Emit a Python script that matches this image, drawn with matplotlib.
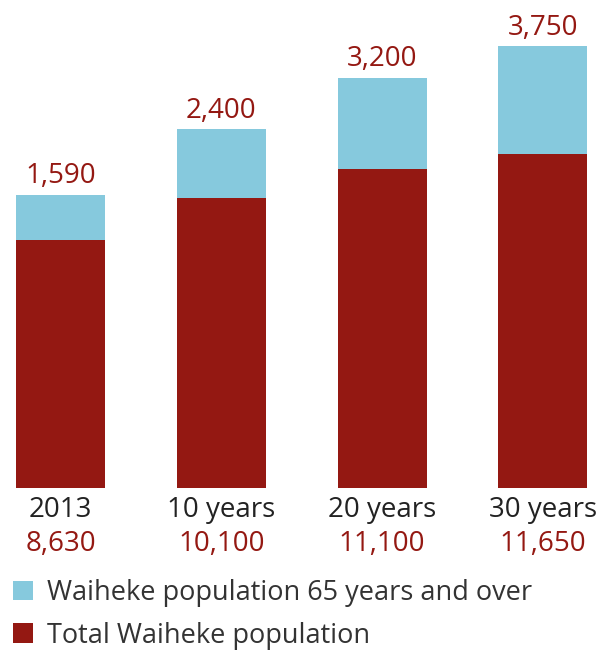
import matplotlib
matplotlib.use("Agg")
import matplotlib.pyplot as plt

categories = ["2013", "10 years", "20 years", "30 years"]
total_pop = [8630, 10100, 11100, 11650]
over65_pop = [1590, 2400, 3200, 3750]
total_labels = ["8,630", "10,100", "11,100", "11,650"]
over65_labels = ["1,590", "2,400", "3,200", "3,750"]
legend_labels = ["Waiheke population 65 years and over", "Total Waiheke population"]

RED = "#941812"
BLUE = "#86C9DD"
plt.rcParams['font.family'] = ['Open Sans', 'DejaVu Sans']

fig = plt.figure(figsize=(5.98, 6.52), dpi=100)
ax = fig.add_axes([16/598, 1-488/652, 571/598, 488/652])
x = list(range(len(categories)))
b_red = ax.bar(x, total_pop, width=0.553, color=RED, linewidth=0)
b_blue = ax.bar(x, over65_pop, bottom=total_pop, width=0.553, color=BLUE, linewidth=0)
ax.set_xlim(-0.277, 3.274)
ax.set_ylim(0, 17000)
ax.axis("off")

for xi, t, o, lab in zip(x, total_pop, over65_pop, over65_labels):
    ax.annotate(lab, (xi, t + o), xytext=(0, 3), textcoords="offset points",
                ha="center", va="bottom", fontsize=20, color=RED)

for xi, cat, lab in zip(x, categories, total_labels):
    ax.annotate(cat, (xi, 0), xytext=(0, -6), textcoords="offset points",
                ha="center", va="top", fontsize=20, color="#222222")
    ax.annotate(lab, (xi, 0), xytext=(0, -30), textcoords="offset points",
                ha="center", va="top", fontsize=20, color=RED)

fig.legend([b_blue, b_red], legend_labels, loc="upper left",
           bbox_to_anchor=(0.004, 1-568/652), frameon=False, fontsize=19.5,
           handlelength=0.74, handleheight=0.74, handletextpad=0.52,
           labelspacing=0.55, borderaxespad=0, labelcolor="#333333")

fig.savefig("out.png", dpi=100)
